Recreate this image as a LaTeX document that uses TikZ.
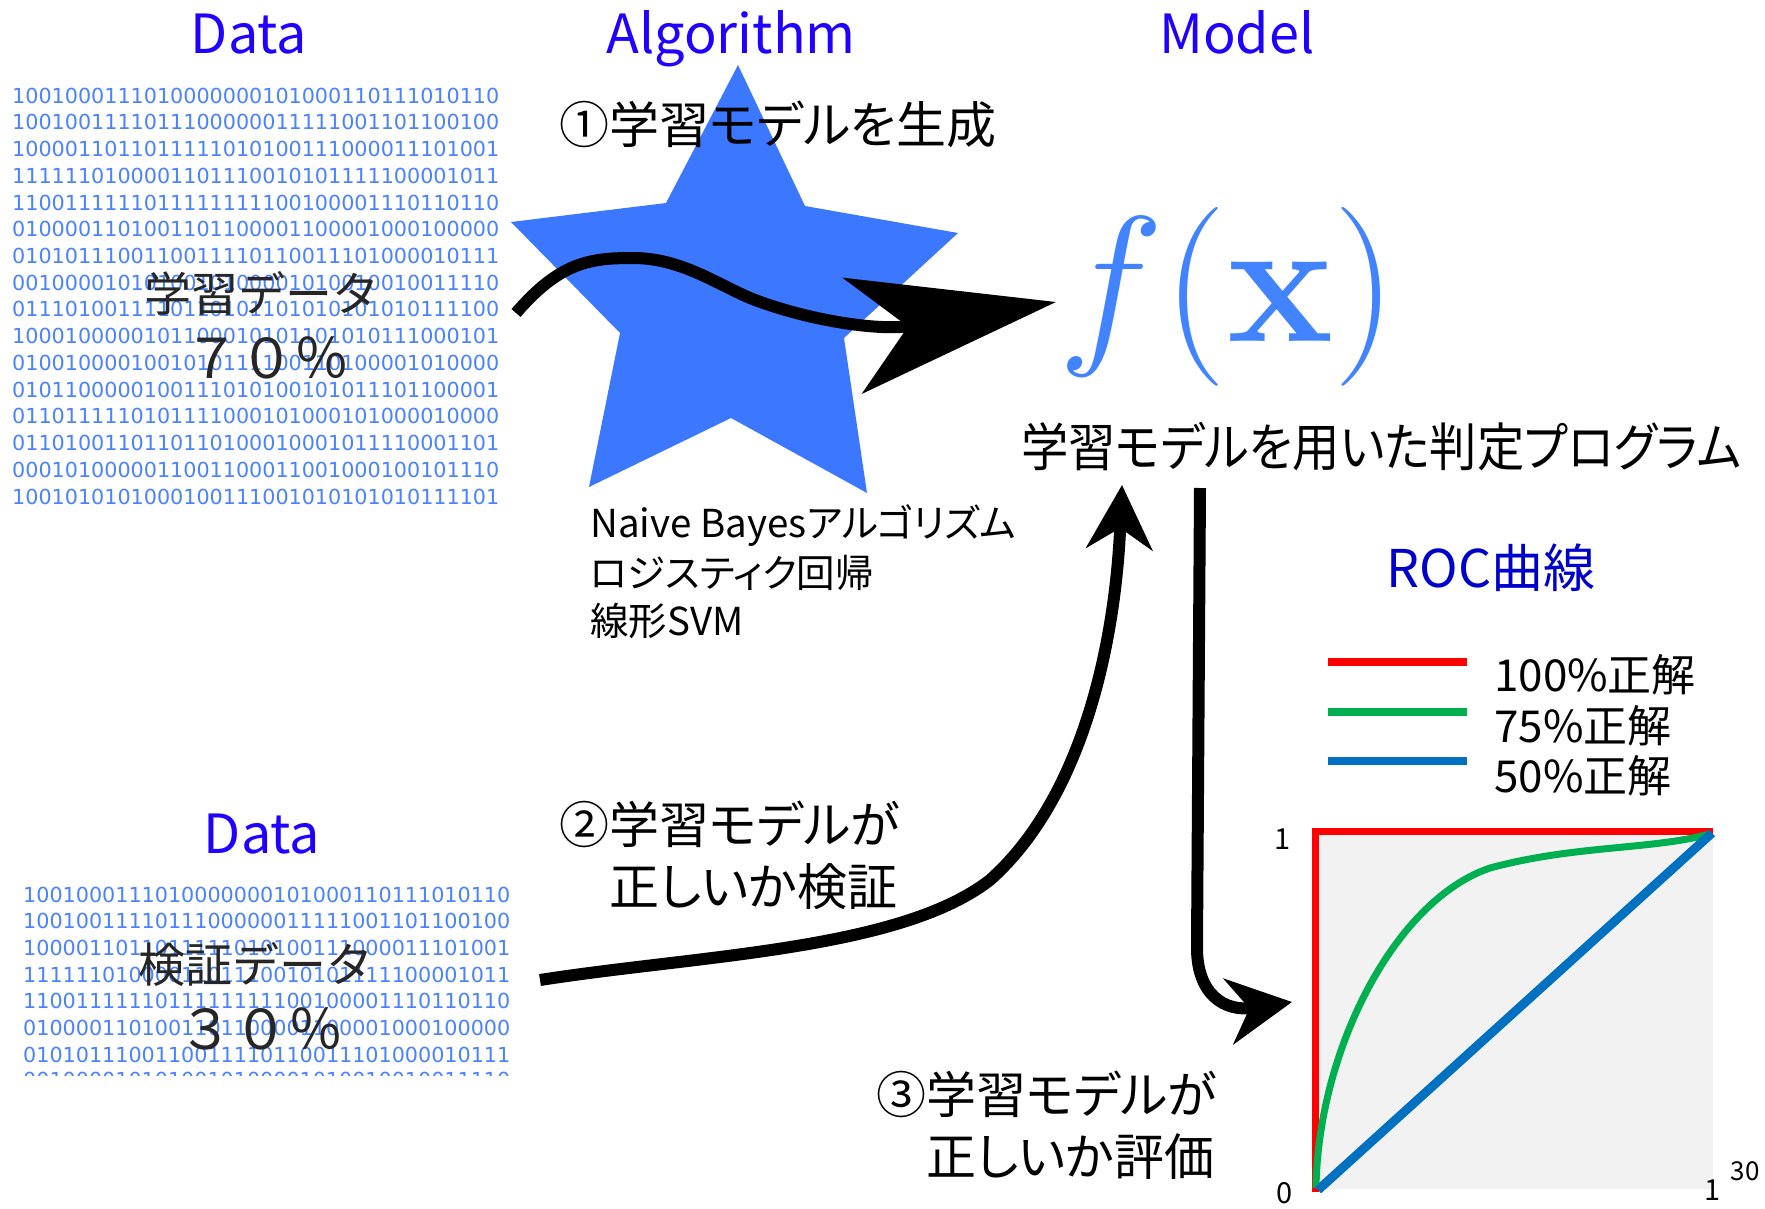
\RequirePackage{fix-cm}
\documentclass[tikz,border=0pt]{standalone}
\usepackage[no-math]{fontspec}
\setmainfont{Noto Sans CJK JP}
\newfontfamily\jpp{Noto Sans CJK JP}[RawFeature=+palt]
\newfontfamily\jpn{Noto Sans CJK JP}[RawFeature=+palt, FakeStretch=0.91]
\newfontfamily\jpf{Noto Sans CJK JP}
\newfontfamily\bitsfont{DejaVu Sans}
\usetikzlibrary{arrows.meta}

\definecolor{hdrblue}{RGB}{32,0,255}
\definecolor{rocblue}{RGB}{0,0,204}
\definecolor{starblue}{RGB}{60,120,255}
\definecolor{fxblue}{RGB}{66,132,255}
\definecolor{bitblue}{RGB}{74,130,255}
\definecolor{labelgray}{RGB}{38,38,38}
\definecolor{plotgray}{RGB}{242,242,242}
\definecolor{rocred}{RGB}{255,0,0}
\definecolor{rocgreen}{RGB}{0,176,80}
\definecolor{roclineblue}{RGB}{0,112,192}

\tikzset{
  bits/.style={font=\bitsfont\fontsize{20.7}{24}\selectfont, text=bitblue, inner sep=0pt, anchor=base west},
  hdr/.style={font=\jpp\fontsize{54}{60}\selectfont, text=hdrblue, inner sep=0pt, anchor=base},
  overlbl/.style={font=\jpf\fontsize{47}{56}\selectfont, text=labelgray, inner sep=0pt},
  overpct/.style={font=\jpf\fontsize{55}{60}\selectfont, text=labelgray, inner sep=0pt},
  steplbl/.style={font=\jpp\fontsize{50}{62}\selectfont, inner sep=0pt, anchor=west, align=left},
  algtxt/.style={font=\jpp\fontsize{38.5}{48}\selectfont, inner sep=0pt, anchor=base west},
  legtxt/.style={font=\jpp\fontsize{44}{48}\selectfont, inner sep=0pt, anchor=west},
  axtxt/.style={font=\jpp\fontsize{29}{34}\selectfont, inner sep=0pt},
  flow/.style={draw=black, line width=12pt},
  bighead/.style={-{Stealth[length=206pt,width=117pt,inset=56pt]}},
  smallhead/.style={-{Stealth[length=64pt,width=66pt,inset=21pt]}},
}

\begin{document}
\begin{tikzpicture}[x=1pt,y=-1pt]
\useasboundingbox (0,0) rectangle (1765,1208);
\fill[white] (0,0) rectangle (1765,1208);

% column headers
\node[hdr] (hdata)  at (249,53) {Data};
\node[hdr] (halgo)  at (731,53) {Algorithm};
\node[hdr] (hmodel) at (1237,53) {Model};

% training data block
\foreach \r [count=\i] in {
1001000111010000000101000110111010110,
1001001111011100000011111001101100100,
1000011011011111010100111000011101001,
1111110100001101110010101111100001011,
1100111111011111111100100001110110110,
0100001101001101100001100001000100000,
0101011100110011110110011101000010111,
0010000101010010100001010010010011110,
0111010011110110101101010101010111100,
1000100000101100010101101010111000101,
0100100001001010111100110100001010000,
0101100000100111010100101011101100001,
0110111110101111000101000101000010000,
0110100110110110100010001011110001101,
0001010000011001100011001000100101110,
1001010101000100111001010101010111101}
  \node[bits] (trainbits\i) at (12,{103.2+(\i-1)*26.72}) {\r};

% test data block
\node[hdr] (hdata2) at (262,853) {Data};
\foreach \r [count=\i] in {
1001000111010000000101000110111010110,
1001001111011100000011111001101100100,
1000011011011111010100111000011101001,
1111110100001101110010101111100001011,
1100111111011111111100100001110110110,
0100001101001101100001100001000100000,
0101011100110011110110011101000010111}
  \node[bits] (testbits\i) at (23,{902+(\i-1)*26.67}) {\r};
\begin{scope}
  \clip (0,1060) rectangle (600,1075);
  \node[bits] (testbits8) at (23,1087) {0010000101010010100001010010010011110};
\end{scope}

% algorithm star
\fill[starblue] (738,65) -- (805,206) -- (958,233) -- (844,338) -- (867,493)
  -- (731,418) -- (589,487) -- (620,333) -- (511,222) -- (666,203) -- cycle;

% labels over the data blocks
\node[overlbl] (trainlbl) at (262,293) {学習データ};
\node[overpct] (trainpct) at (267,358) {７０％};
\node[overlbl] (testlbl)  at (256,964) {検証データ};
\node[overpct] (testpct)  at (261,1029) {３０％};

% algorithm list
\node[algtxt] (alg1) at (590,537) {Naive Bayesアルゴリズム};
\node[algtxt] (alg2) at (590,587) {ロジスティク回帰};
\node[algtxt] (alg3) at (590,635) {線形SVM};

% model
\node[anchor=base west, inner sep=0pt, text=fxblue, font=\fontsize{179}{190}\selectfont] (fx) at (1058,341) {$f(\mathbf{x})$};
\node[font=\jpn\fontsize{52}{60}\selectfont, inner sep=0pt] (model) at (1381,447) {学習モデルを用いた判定プログラム};

% step captions
\node[steplbl] (step1) at (559,124) {①学習モデルを生成};
\node[steplbl] (step2) at (559,855) {②学習モデルが\\\phantom{②}正しいか検証};
\node[steplbl] (step3) at (876,1125) {③学習モデルが\\\phantom{③}正しいか評価};

% ROC chart
\node[font=\jpp\fontsize{52}{60}\selectfont, text=rocblue, inner sep=0pt] (roctitle) at (1491,568) {ROC曲線};
\draw[rocred, line width=8pt] (1328,662) -- (1467,662);
\draw[rocgreen, line width=8pt] (1328,712) -- (1467,712);
\draw[roclineblue, line width=8pt] (1328,761) -- (1467,761);
\node[legtxt] (leg1) at (1494,675) {100\%正解};
\node[legtxt] (leg2) at (1494,726) {75\%正解};
\node[legtxt] (leg3) at (1494,776) {50\%正解};

\fill[plotgray] (1315,831) rectangle (1713,1189);
\coordinate (origin) at (1316,1189);
\coordinate (topleft) at (1315,831);
\coordinate (topright) at (1713,831);
\draw[rocred, line width=7pt, line join=miter] (1315,1192) -- (topleft) -- (topright);
\draw[rocgreen, line width=7pt] (1316,1188) .. controls (1318,1050) and (1395,900) .. (1490,868)
  .. controls (1575,845) and (1650,850) .. (1710,834);
\draw[roclineblue, line width=9pt] (1318,1190) -- (1712,833);
\node[axtxt] (ytop) at (1283,839) {1};
\node[axtxt] (yzero) at (1285,1193) {0};
\node[axtxt] (xone) at (1713,1190) {1};
\node[axtxt, font=\jpp\fontsize{26}{30}\selectfont] (xnote) at (1745,1171) {30};

% flow arrows
\coordinate (a1s) at (516,313);
\coordinate (a1e) at (1056,302);
\draw[flow, bighead] (a1s) .. controls (560,262) and (590,258) .. (633,258)
  .. controls (680,258) and (715,283) .. (750,298)
  .. controls (800,318) and (875,332) .. (a1e);

\coordinate (a2s) at (540,980);
\coordinate (a2e) at (1122,485);
\draw[flow, smallhead] (a2s) .. controls (700,955) and (900,950) .. (990,880)
  .. controls (1080,800) and (1115,650) .. (a2e);

\coordinate (a3s) at (1200,488);
\coordinate (a3e) at (1292,1002);
\draw[flow, smallhead] (a3s) -- (1197,945) .. controls (1196,995) and (1225,1012) .. (a3e);
\end{tikzpicture}
\end{document}
